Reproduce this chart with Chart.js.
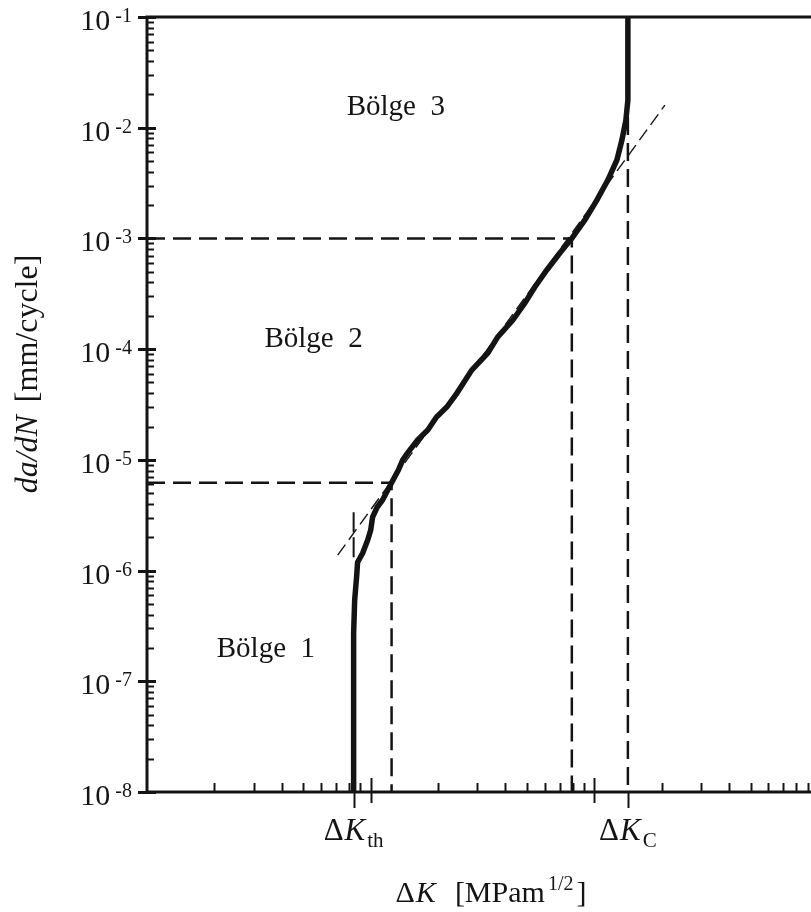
<!DOCTYPE html>
<html>
<head>
<meta charset="utf-8">
<title>da/dN – ΔK</title>
<script src="https://cdn.jsdelivr.net/npm/chart.js@4.4.1/dist/chart.umd.min.js"></script>
<style>
  html, body { margin: 0; padding: 0; background: #fff; overflow: hidden; }
  #wrap { width: 811px; height: 912px; }
</style>
</head>
<body>
<div id="wrap"><canvas id="crack-growth" width="811" height="912"></canvas></div>
<script>
// crack growth curve: ΔK [MPa m^1/2] vs da/dN [mm/cycle]
const curveK = [8.39, 8.39, 8.48, 8.65, 8.74, 9.21, 9.70, 10.0, 10.2, 10.7, 11.3, 12.4, 13.3,
  13.9, 14.6, 16.2, 18.0, 19.7, 21.9, 24.3, 28.3, 33.4, 37.0, 43.2, 48.9, 54.2, 61.3, 70.1,
  79.3, 90.7, 102.6, 114.9, 126.1, 132.8, 138.3, 141.2, 141.2];
const curveRate = [1e-8, 2.72e-7, 5.41e-7, 8.73e-7, 1.19e-6, 1.44e-6, 1.89e-6, 2.32e-6, 3.04e-6,
  3.75e-6, 4.34e-6, 6.2e-6, 8.09e-6, 9.96e-6, 1.15e-5, 1.51e-5, 1.86e-5, 2.44e-5, 3.00e-5,
  4.01e-5, 6.47e-5, 9.23e-5, 1.29e-4, 1.83e-4, 2.61e-4, 3.64e-4, 5.19e-4, 7.38e-4, 1e-3,
  1.47e-3, 2.22e-3, 3.37e-3, 5.11e-3, 7.74e-3, 1.17e-2, 1.78e-2, 1e-1];

// Paris-law fit line through region 2
const parisK = [7.12, 206.7];
const parisRate = [1.38e-6, 1.60e-2];

// characteristic values
const deltaKTh = 8.39;
const deltaKC = 141.2;
const lowerKneeK = 12.4;
const lowerKneeRate = 6.2e-6;
const upperKneeK = 79.3;
const upperKneeRate = 1e-3;
const criticalGuideTop = 1.25e-2;
const thMarkRate = [3.37e-6, 1.32e-6];

// axes
const kMin = 1;
const kMax = 930;
const rateDecades = [-8, -7, -6, -5, -4, -3, -2, -1];
const kTickLabels = [
  { value: deltaKTh, sub: "th" },
  { value: deltaKC, sub: "C" },
];

// region names
const regionNames = ["Bölge  3", "Bölge  2", "Bölge  1"];
const regionK = [7.81, 3.35, 2.05];
const regionRate = [1.30e-2, 1.04e-4, 1.66e-7];

const ink = "#141414";
const serif = '"Liberation Serif", "Times New Roman", serif';

const pts = (xs, ys) => xs.map((x, i) => ({ x, y: ys[i] }));

const lineSet = (data, width, dash) => ({
  data,
  showLine: true,
  borderColor: ink,
  borderWidth: width,
  borderDash: dash,
  pointRadius: 0,
  tension: 0,
  fill: false,
});

const datasets = [
  lineSet(pts([1, lowerKneeK, lowerKneeK], [lowerKneeRate, lowerKneeRate, 1e-8]), 2.5, [18, 8]),
  lineSet(pts([1, upperKneeK, upperKneeK], [upperKneeRate, upperKneeRate, 1e-8]), 2.5, [18, 8]),
  lineSet(pts([deltaKC, deltaKC], [criticalGuideTop, 1e-8]), 2.5, [18, 8]),
  lineSet(pts([deltaKTh, deltaKTh], thMarkRate), 2, [20, 5]),
  lineSet(pts(parisK, parisRate), 1.4, [13, 6]),
  lineSet(pts(curveK, curveRate), 5.5, []),
];

function drawParts(ctx, parts, x, y) {
  // parts: [{text, font, dy, gap}] laid out left to right from x
  let cx = x;
  for (const p of parts) {
    ctx.font = p.font;
    ctx.fillText(p.text, cx, y + (p.dy || 0));
    cx += ctx.measureText(p.text).width + (p.gap || 0);
  }
  return cx - x;
}

function partsWidth(ctx, parts) {
  let w = 0;
  for (const p of parts) {
    ctx.font = p.font;
    w += ctx.measureText(p.text).width + (p.gap || 0);
  }
  return w;
}

const frame = {
  id: "frame",
  afterDatasetsDraw(chart) {
    const { ctx, chartArea: a, scales } = chart;
    const x = scales.x;
    const y = scales.y;
    ctx.save();
    ctx.strokeStyle = ink;
    ctx.fillStyle = ink;
    ctx.lineCap = "butt";

    // frame: top, left, bottom
    ctx.lineWidth = 3;
    ctx.beginPath();
    ctx.moveTo(a.right + 2, a.top);
    ctx.lineTo(a.left, a.top);
    ctx.lineTo(a.left, a.bottom);
    ctx.lineTo(a.right + 2, a.bottom);
    ctx.stroke();

    // y ticks (inside), decades crossing the axis
    for (let d = rateDecades[0]; d <= rateDecades[rateDecades.length - 1]; d++) {
      for (let k = 1; k <= 9; k++) {
        const v = k * Math.pow(10, d);
        if (v > y.max * 1.0001) break;
        const py = Math.round(y.getPixelForValue(v)) + 0.5;
        ctx.beginPath();
        if (k === 1) {
          ctx.lineWidth = 3;
          ctx.moveTo(a.left - 9, py);
          ctx.lineTo(a.left + 9, py);
        } else {
          ctx.lineWidth = 2;
          ctx.moveTo(a.left, py);
          ctx.lineTo(a.left + 7, py);
        }
        ctx.stroke();
      }
    }

    // x ticks (inside), decades crossing the axis
    for (let d = 0; d <= 2; d++) {
      for (let k = 1; k <= 9; k++) {
        const v = k * Math.pow(10, d);
        if (v <= x.min || v > x.max) continue;
        const px = Math.round(x.getPixelForValue(v)) + 0.5;
        ctx.beginPath();
        ctx.lineWidth = 2;
        if (k === 1) {
          ctx.moveTo(px, a.bottom - 14);
          ctx.lineTo(px, a.bottom + 11);
        } else {
          ctx.moveTo(px, a.bottom);
          ctx.lineTo(px, a.bottom - 9);
        }
        ctx.stroke();
      }
    }
    for (const t of kTickLabels) {
      const px = Math.round(x.getPixelForValue(t.value)) + 0.5;
      ctx.beginPath();
      ctx.lineWidth = 2;
      ctx.moveTo(px, a.bottom);
      ctx.lineTo(px, a.bottom + 16);
      ctx.stroke();
    }

    ctx.textBaseline = "alphabetic";
    ctx.textAlign = "left";

    // y tick labels 10^n
    for (const e of rateDecades) {
      const py = y.getPixelForValue(Math.pow(10, e));
      const parts = [
        { text: "10", font: `30px ${serif}`, gap: 5 },
        { text: String(e), font: `20px ${serif}`, dy: -8 },
      ];
      const w = partsWidth(ctx, parts);
      drawParts(ctx, parts, a.left - 15 - w, py + 13);
    }

    // ΔK_th, ΔK_C
    for (const t of kTickLabels) {
      const px = x.getPixelForValue(t.value);
      const parts = [
        { text: "Δ", font: `31px ${serif}`, gap: 1 },
        { text: "K", font: `italic 31px ${serif}`, gap: 2 },
        { text: t.sub, font: `21px ${serif}`, dy: 7 },
      ];
      const w = partsWidth(ctx, parts);
      drawParts(ctx, parts, px - w / 2, a.bottom + 48);
    }

    // x title
    const xParts = [
      { text: "Δ", font: `30px ${serif}`, gap: 1 },
      { text: "K", font: `italic 30px ${serif}`, gap: 19 },
      { text: "[MPam", font: `30px ${serif}`, gap: 3 },
      { text: "1/2", font: `20px ${serif}`, dy: -12, gap: 3 },
      { text: "]", font: `30px ${serif}` },
    ];
    const xw = partsWidth(ctx, xParts);
    drawParts(ctx, xParts, 491 - xw / 2, a.bottom + 110);

    // y title
    const yParts = [
      { text: "da/dN", font: `italic 32px ${serif}`, gap: 13 },
      { text: "[mm/cycle]", font: `32px ${serif}` },
    ];
    const yw = partsWidth(ctx, yParts);
    ctx.save();
    ctx.translate(37, 374);
    ctx.rotate(-Math.PI / 2);
    drawParts(ctx, yParts, -yw / 2, 0);
    ctx.restore();

    // region names
    ctx.font = `29px ${serif}`;
    regionNames.forEach((name, i) => {
      ctx.fillText(name, x.getPixelForValue(regionK[i]), y.getPixelForValue(regionRate[i]));
    });

    ctx.restore();
  },
};

new Chart(document.getElementById("crack-growth"), {
  type: "scatter",
  data: { datasets },
  options: {
    responsive: false,
    animation: false,
    layout: { padding: { left: 147, top: 17, right: 0, bottom: 120 } },
    plugins: { legend: { display: false }, tooltip: { enabled: false } },
    scales: {
      x: {
        type: "logarithmic",
        min: kMin,
        max: kMax,
        ticks: { display: false },
        grid: { display: false, drawTicks: false },
        border: { display: false },
      },
      y: {
        type: "logarithmic",
        min: Math.pow(10, rateDecades[0]),
        max: Math.pow(10, rateDecades[rateDecades.length - 1]),
        ticks: { display: false },
        grid: { display: false, drawTicks: false },
        border: { display: false },
      },
    },
  },
  plugins: [frame],
});
</script>
</body>
</html>
